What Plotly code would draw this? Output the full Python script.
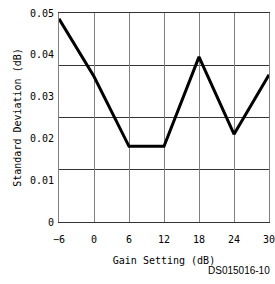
import plotly.graph_objects as go

gain_db = [-6, 0, 6, 12, 18, 24, 30]
std_dev_db = [0.0486, 0.0348, 0.0181, 0.0181, 0.0395, 0.0210, 0.0352]
y_tick_vals = [0, 0.01, 0.02, 0.03, 0.04, 0.05]
y_tick_text = ["0", "0.01", "0.02", "0.03", "0.04", "0.05"]
x_tick_vals = [-6, 0, 6, 12, 18, 24, 30]

mono = "DejaVu Sans Mono"

fig = go.Figure()
fig.add_trace(go.Scatter(
    x=gain_db, y=std_dev_db, mode="lines",
    line=dict(color="black", width=3), showlegend=False, hoverinfo="skip"))

fig.update_layout(
    width=275, height=284,
    margin=dict(l=59, r=6, t=13, b=62, autoexpand=False),
    paper_bgcolor="white", plot_bgcolor="white",
    font=dict(family=mono, size=10, color="black"),
    xaxis=dict(
        range=[-6, 30], tickvals=x_tick_vals, automargin=False,
        showgrid=True, gridcolor="#808080", gridwidth=1,
        zeroline=False,
        showline=True, mirror=True, linecolor="#333333", linewidth=1,
        ticks="outside", ticklen=8, tickcolor="rgba(0,0,0,0)",
        ticklabeloverflow="allow",
        title=dict(text="Gain Setting (dB)", standoff=12, font=dict(family=mono, size=10)),
        tickfont=dict(family=mono, size=10),
    ),
    yaxis=dict(
        range=[0, 0.05], tickvals=y_tick_vals, ticktext=y_tick_text, automargin=False,
        showgrid=False, zeroline=False,
        showline=True, mirror=True, linecolor="#808080", linewidth=1,
        ticks="outside", ticklen=2, tickcolor="rgba(0,0,0,0)",
        ticklabeloverflow="allow",
        minor=dict(tick0=0, dtick=0.0125, showgrid=True, gridcolor="#333333", gridwidth=1, ticks=""),
        title=dict(text="Standard Deviation (dB)", standoff=6, font=dict(family=mono, size=10)),
        tickfont=dict(family=mono, size=10),
    ),
    annotations=[dict(
        text="DS015016-10", xref="paper", yref="paper", x=1, y=-0.23,
        xanchor="right", yanchor="middle", xshift=3, showarrow=False,
        font=dict(family="Liberation Sans", size=10, color="black"))],
)

fig.write_html(
    "out.html",
    config={"displayModeBar": False},
    post_script="document.body.style.margin='0';document.body.style.overflow='hidden';",
)
